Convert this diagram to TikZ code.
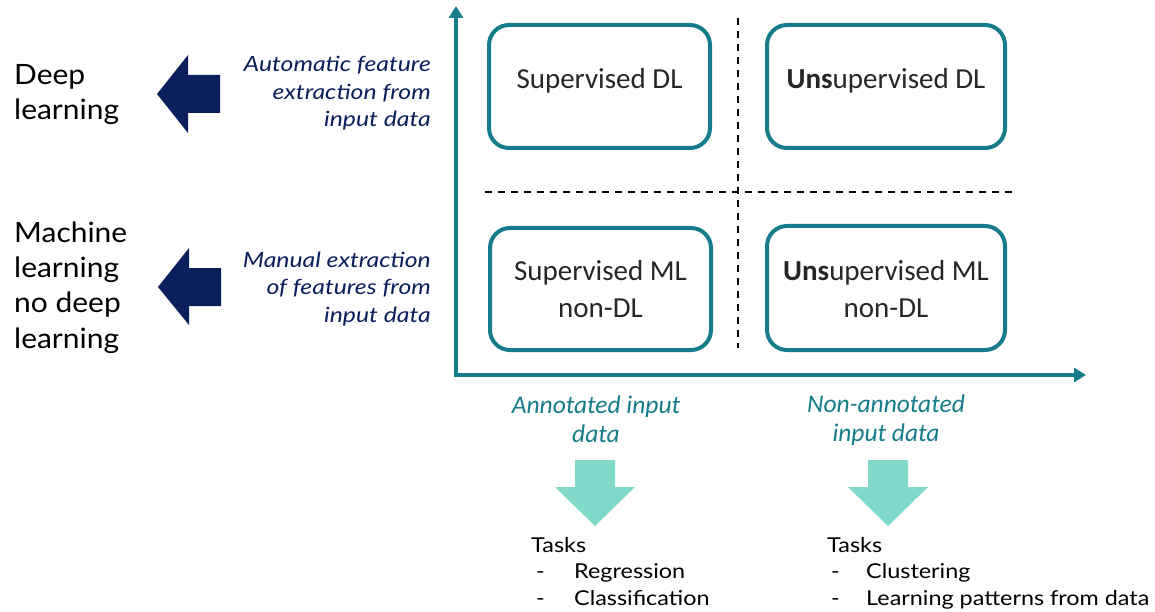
\documentclass[tikz,border=0pt]{standalone}
\usepackage{fontspec}
\setmainfont{Lato}
\newfontfamily\boxfont{Carlito}
\usetikzlibrary{arrows.meta}
\definecolor{teal}{HTML}{167C8A}
\definecolor{navy}{HTML}{0A1F5C}
\definecolor{mint}{HTML}{80D9C9}
\tikzset{
  quad/.style={draw=teal, line width=4pt, rounded corners=20pt, fill=white},
  quadtext/.style={font=\boxfont\fontsize{29}{37}\selectfont, align=center, text=black!85},
  axis/.style={draw=teal, line width=3.5pt, -{Triangle[length=12pt,width=14pt]}},
  divider/.style={black, line width=1.5pt, dash pattern=on 7pt off 6pt},
  sidelabel/.style={font=\fontsize{28}{35.3}\selectfont, align=left, anchor=base west,
    text=black, inner sep=0pt, xscale=1.07, transform shape},
  navytext/.style={font=\itshape\fontsize{21}{27.5}\selectfont, align=right, anchor=base east,
    text=navy, inner sep=0pt, xscale=1.18, transform shape},
  tealtext/.style={font=\boxfont\itshape\fontsize{25.5}{29}\selectfont, align=center, anchor=base,
    text=teal, inner sep=0pt},
  tasktext/.style={font=\fontsize{20.5}{26.5}\selectfont, anchor=base west, text=black,
    inner sep=0pt, xscale=1.14, transform shape},
  bigarrow/.style={fill=navy},
  downarrow/.style={fill=mint}
}
\begin{document}
\begin{tikzpicture}[x=1pt,y=-1pt]
\useasboundingbox (0,0) rectangle (1155,612);
\fill[white] (0,0) rectangle (1155,612);

% dividing lines between the quadrants
\coordinate (hl) at (485,192);
\coordinate (hr) at (1012,192);
\coordinate (vt) at (738,18);
\coordinate (vb) at (738,348);
\draw[divider] (hl) -- (hr);
\draw[divider] (vt) -- (vb);

% axes
\coordinate (origin) at (456,375);
\coordinate (ytop) at (456,6);
\coordinate (xend) at (1086,375);
\draw[axis] (origin) -- (ytop);
\draw[axis] ([xshift=-1.75pt]origin) -- (xend);

% quadrants
\draw[quad] (489,25) rectangle (710,148);
\node[quadtext] (sdl) at (599.5,81) {Supervised DL};
\draw[quad] (767,25) rectangle (1005,148);
\node[quadtext] (udl) at (886,81) {\textbf{Uns}upervised DL};
\draw[quad] (490,228) rectangle (711,350);
\node[quadtext] (sml) at (600.5,289) {Supervised ML\\non-DL};
\draw[quad] (767,226) rectangle (1005,350);
\node[quadtext] (uml) at (886,289) {\textbf{Uns}upervised ML\\non-DL};

% left side labels (anchored on the baseline of their last line)
\node[sidelabel] (dl) at (14,120) {Deep\\learning};
\node[sidelabel] (ml) at (14,348) {Machine\\learning\\no deep\\learning};

% navy arrows pointing left
\fill[bigarrow] (157,94) -- (188,55) -- (188,75) -- (220,75) -- (220,113) -- (188,113) -- (188,133) -- cycle;
\fill[bigarrow] (158,287) -- (189,248) -- (189,268) -- (221,268) -- (221,306) -- (189,306) -- (189,325) -- cycle;

% feature extraction notes
\node[navytext] (auto) at (431,127) {Automatic feature\\extraction from\\input data};
\node[navytext] (manual) at (431,322) {Manual extraction\\of features from\\input data};

% labels under the horizontal axis
\node[tealtext] (ann) at (596,442) {Annotated input\\data};
\node[tealtext] (nonann) at (886,441) {Non-annotated\\input data};

% mint arrows pointing down
\fill[downarrow] (575,460) -- (615,460) -- (615,487) -- (635,487) -- (595,526) -- (555,487) -- (575,487) -- cycle;
\fill[downarrow] (868,460) -- (908,460) -- (908,487) -- (928,487) -- (888,526) -- (848,487) -- (868,487) -- cycle;

% task lists
\node[tasktext] (t1) at (531,552) {Tasks};
\node[tasktext] (d1) at (536,578) {-};
\node[tasktext] (r1) at (574,578) {Regression};
\node[tasktext] (d2) at (536,605) {-};
\node[tasktext] (c1) at (574,605) {Classification};
\node[tasktext] (t2) at (827,552) {Tasks};
\node[tasktext] (d3) at (831,578) {-};
\node[tasktext] (cl) at (866,578) {Clustering};
\node[tasktext] (d4) at (831,605) {-};
\node[tasktext] (lp) at (866,605) {Learning patterns from data};
\end{tikzpicture}
\end{document}
